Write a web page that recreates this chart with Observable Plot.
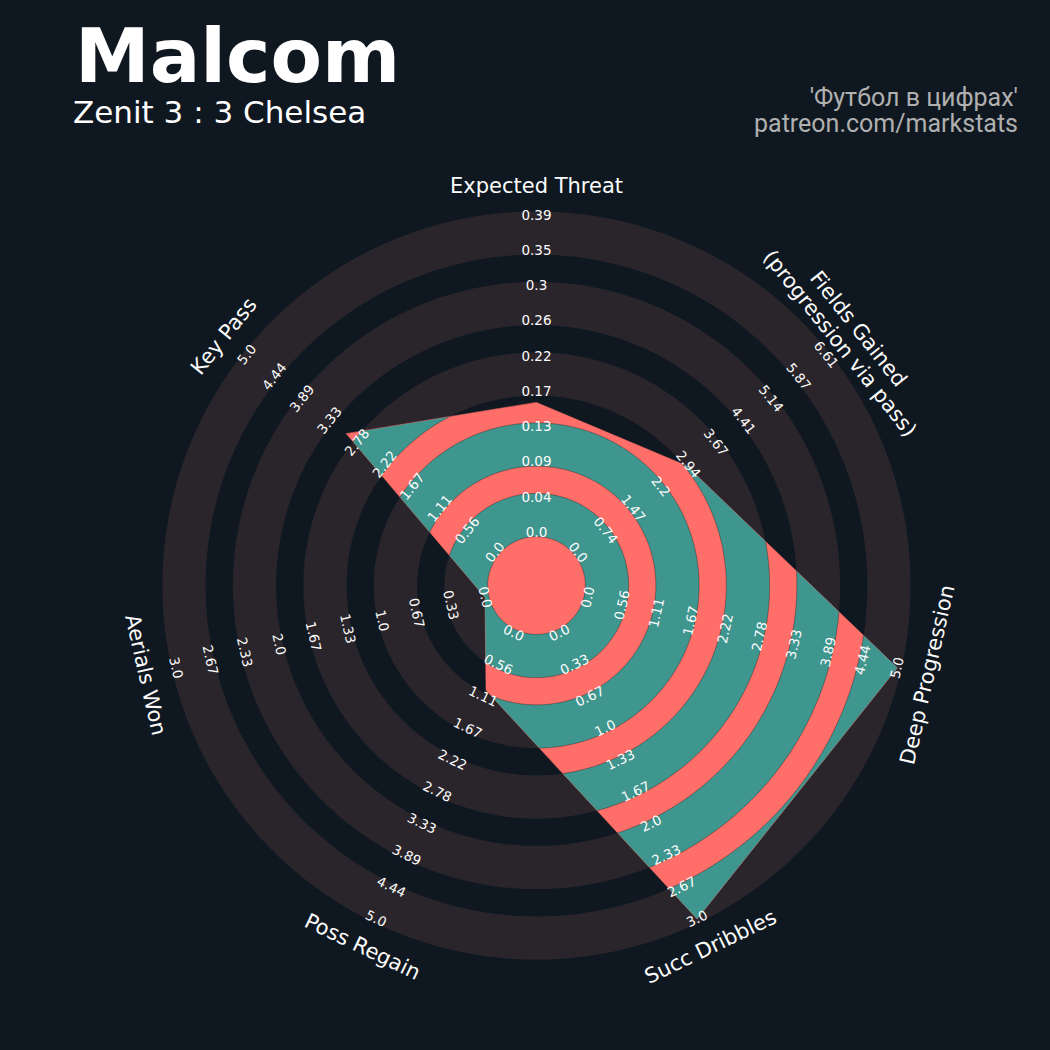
<!DOCTYPE html>
<html>
<head>
<meta charset="utf-8">
<script src="https://cdn.jsdelivr.net/npm/d3@7"></script>
<script src="https://cdn.jsdelivr.net/npm/@observablehq/plot@0.6"></script>
<style>
  html, body { margin: 0; padding: 0; background: #0f1820; }
  #wrap { position: relative; width: 1050px; height: 1050px; overflow: hidden; background: #0f1820; }
  #header { position: relative; width: 1050px; height: 160px; }
  .t { position: absolute; white-space: nowrap; line-height: 1; }
  #title { left: 75px; top: 19px; font-family: "DejaVu Sans"; font-weight: bold; font-size: 75px; line-height: 75px; color: #ffffff; }
  #subtitle { left: 73px; top: 97px; font-family: "DejaVu Sans"; font-size: 31px; color: #ffffff; }
  .credit { right: 32px; font-family: Roboto; font-size: 25px; line-height: 25px; color: #b0b0b0; text-align: right; }
  #credit1 { top: 85px; }
  #credit2 { top: 111px; }
</style>
</head>
<body>
<div id="wrap">
  <div id="header">
    <div class="t" id="title">Malcom</div>
    <div class="t" id="subtitle">Zenit 3 : 3 Chelsea</div>
    <div class="t credit" id="credit1">'Футбол в цифрах'</div>
    <div class="t credit" id="credit2">patreon.com/markstats</div>
  </div>
  <div id="chart"></div>
</div>
<script>
// ---- data ----
const params = ["Expected Threat", "Fields Gained\n(progression via pass)", "Deep Progression",
                "Succ Dribbles", "Poss Regain", "Aerials Won", "Key Pass"];
const values = [0.16, 2.9, 5.0, 3.0, 1.0, 0.0, 3.0];
const minRange = [0, 0, 0, 0, 0, 0, 0];
const maxRange = [0.39, 6.61, 5.0, 3.0, 5.0, 3.0, 5.0];

const ticksExpectedThreat = ["0.0", "0.04", "0.09", "0.13", "0.17", "0.22", "0.26", "0.3", "0.35", "0.39"];
const ticksFieldsGained   = ["0.0", "0.74", "1.47", "2.2", "2.94", "3.67", "4.41", "5.14", "5.87", "6.61"];
const ticksDeepProgression= ["0.0", "0.56", "1.11", "1.67", "2.22", "2.78", "3.33", "3.89", "4.44", "5.0"];
const ticksSuccDribbles   = ["0.0", "0.33", "0.67", "1.0", "1.33", "1.67", "2.0", "2.33", "2.67", "3.0"];
const ticksPossRegain     = ["0.0", "0.56", "1.11", "1.67", "2.22", "2.78", "3.33", "3.89", "4.44", "5.0"];
const ticksAerialsWon     = ["0.0", "0.33", "0.67", "1.0", "1.33", "1.67", "2.0", "2.33", "2.67", "3.0"];
const ticksKeyPass        = ["0.0", "0.56", "1.11", "1.67", "2.22", "2.78", "3.33", "3.89", "4.44", "5.0"];
const tickLabels = [ticksExpectedThreat, ticksFieldsGained, ticksDeepProgression, ticksSuccDribbles,
                    ticksPossRegain, ticksAerialsWon, ticksKeyPass];

// ---- layout ----
const N = params.length;
const CC = 1.5;      // center circle radius (ring units)
const NR = 9;        // ring steps
const PX = 35.25;    // pixels per ring unit
const W = 1050, H = 890, CX = 536, CY = 425;
const LABEL_R = 11.36;
const EDGE = 4 / PX;

const ang = i => i * 2 * Math.PI / N;
const pol = (r, a) => ({x: r * Math.sin(a), y: r * Math.cos(a)});
const rotFor = i => { let a = i * 360 / N; if (a > 90 && a < 270) a -= 180; else if (a >= 270) a -= 360; return a; };

const verts = values.map((v, i) => pol(CC + NR * (v - minRange[i]) / (maxRange[i] - minRange[i]), ang(i)));

const circle = (r, id) => d3.range(0, 360, 1).map(t => ({...pol(r, t * Math.PI / 180), id}));
const ringData = d3.range(5).flatMap(j => circle(CC + 2 * j + 0.5, "r" + j));
const edgeData = d3.range(5).flatMap(j => [
  ...circle(CC + 2 * j - EDGE, "a" + j),
  ...circle(CC + 2 * j + 1 + EDGE, "b" + j)
]);

const tickData = tickLabels.flatMap((labels, i) =>
  labels.map((label, k) => ({...pol(CC + k, ang(i)), label, rot: rotFor(i)})));
const paramData = params.map((label, i) => ({...pol(LABEL_R, ang(i)), label, rot: rotFor(i)}));

const RING_GREY = "#29252b", RADAR = "#ff6e68", RADAR_RING = "#3e968f", TXT = "#fcfcfc";

const chart = Plot.plot({
  width: W, height: H, margin: 0,
  style: {background: "#0f1820", overflow: "visible"},
  x: {domain: [-CX / PX, (W - CX) / PX], axis: null},
  y: {domain: [-(H - CY) / PX, CY / PX], axis: null},
  marks: [
    Plot.line(ringData, {x: "x", y: "y", z: "id", curve: "linear-closed", stroke: RING_GREY, strokeWidth: PX + 8}),
    Plot.line(verts, {x: "x", y: "y", curve: "linear-closed", fill: RADAR, stroke: RADAR, strokeWidth: 0.5}),
    Plot.line(ringData, {x: "x", y: "y", z: "id", curve: "linear-closed", stroke: RADAR_RING, strokeWidth: PX + 8}),
    Plot.line(edgeData, {x: "x", y: "y", z: "id", curve: "linear-closed", stroke: "#1a1a1a", strokeWidth: 0.8, strokeOpacity: 0.45}),
    Plot.text(tickData, {x: "x", y: "y", text: "label", rotate: "rot", fill: TXT, fontSize: 13.5, fontFamily: "DejaVu Sans"}),
    Plot.text(paramData, {x: "x", y: "y", text: "label", rotate: "rot", fill: TXT, fontSize: 21, lineHeight: 1.12, fontFamily: "DejaVu Sans"})
  ]
});

document.getElementById("chart").appendChild(chart);

// clip the radar rings to the radar polygon
try {
  const ns = "http://www.w3.org/2000/svg";
  const svg = chart.tagName.toLowerCase() === "svg" ? chart : chart.querySelector("svg");
  const gs = Array.from(svg.children).filter(e => e.tagName.toLowerCase() === "g");
  const radarG = gs[1], ringG = gs[2], edgeG = gs[3];
  const radarPath = radarG.tagName.toLowerCase() === "path" ? radarG : radarG.querySelector("path");
  const defs = document.createElementNS(ns, "defs");
  const cp = document.createElementNS(ns, "clipPath");
  cp.setAttribute("id", "radar-clip");
  const p = document.createElementNS(ns, "path");
  p.setAttribute("d", radarPath.getAttribute("d"));
  cp.appendChild(p);
  defs.appendChild(cp);
  svg.insertBefore(defs, svg.firstChild);
  ringG.setAttribute("clip-path", "url(#radar-clip)");
  edgeG.setAttribute("clip-path", "url(#radar-clip)");
} catch (e) { console.error(e); }
</script>
</body>
</html>
